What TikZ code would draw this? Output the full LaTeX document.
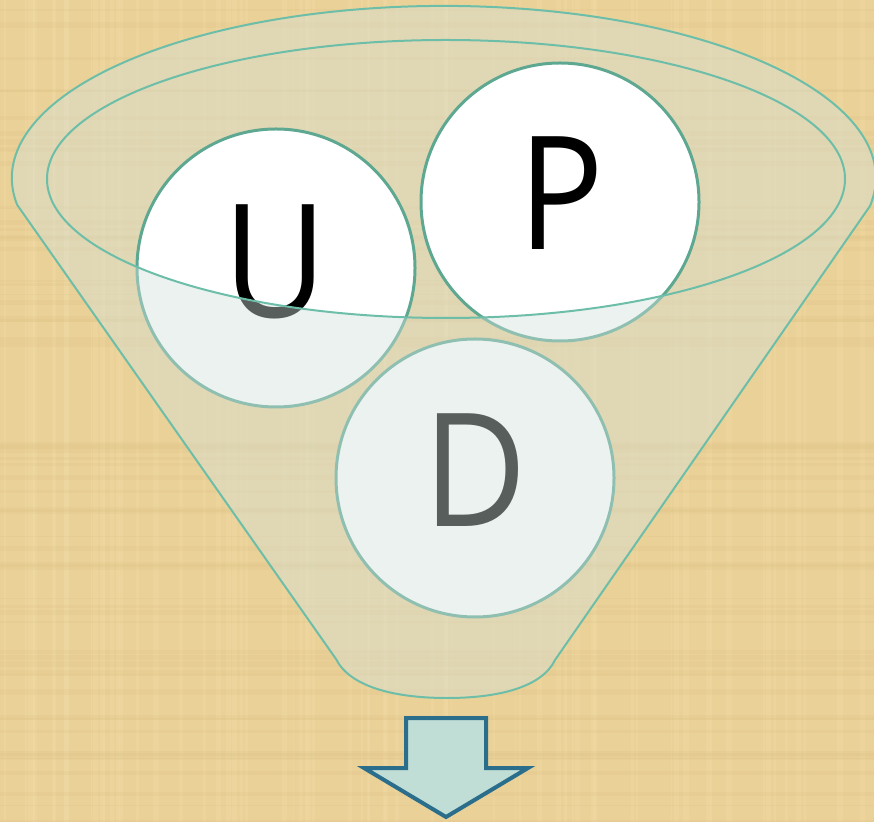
\documentclass[tikz,border=0pt]{standalone}
\usepackage{fontspec}
\setmainfont{Open Sans}
\definecolor{papyrus}{RGB}{234,209,152}
\definecolor{papyrusLight}{RGB}{244,224,176}
\definecolor{papyrusDark}{RGB}{214,186,120}
\definecolor{veil}{RGB}{212,225,220}
\definecolor{rimline}{RGB}{108,190,168}
\definecolor{ballline}{RGB}{94,168,146}
\definecolor{arrowfill}{RGB}{192,221,214}
\definecolor{arrowline}{RGB}{42,110,140}
\newcommand{\narrowletter}[1]{\scalebox{0.9}[1]{#1}}
\tikzset{
  ball/.style={circle,draw=ballline,line width=3pt,fill=white,minimum size=278pt,inner sep=0pt},
  letter/.style={anchor=base,inner sep=0pt,font=\fontsize{158}{158}\selectfont,text=black},
  funnelfill/.style={fill=veil,fill opacity=0.42},
  funnelline/.style={draw=rimline,line width=2pt},
}
\begin{document}
\begin{tikzpicture}[x=1pt,y=1pt]
\useasboundingbox (0,0) rectangle (874,822);
% papyrus background
\fill[papyrus] (0,0) rectangle (874,822);
\pgfmathsetseed{7}
\foreach \i in {1,...,70}{
  \pgfmathsetmacro{\xx}{rnd*874}
  \pgfmathsetmacro{\ww}{1+rnd*5}
  \fill[papyrusLight,opacity=0.2] (\xx,0) rectangle ++(\ww,822);
}
\foreach \i in {1,...,60}{
  \pgfmathsetmacro{\yy}{rnd*822}
  \pgfmathsetmacro{\hh}{1+rnd*5}
  \fill[papyrusDark,opacity=0.14] (0,\yy) rectangle ++(874,\hh);
}
% inner opening fill (under the balls)
\fill[funnelfill] (446,643) ellipse [x radius=399, y radius=139];
% balls
\node[ball] (U) at (276,554) {};
\node[ball] (P) at (560,620) {};
\node[ball] (D) at (475,344) {};
\node[letter] (Ut) at (275,504) {\narrowletter{U}};
\node[letter] (Pt) at (561,572) {\narrowletter{P}};
\node[letter] (Dt) at (475,295) {\narrowletter{D}};
% funnel body in front of the balls (opening cut out)
\fill[funnelfill,even odd rule]
  (870,616) arc[start angle=-9.4,end angle=189,x radius=432,y radius=172]
  -- (336,163) .. controls (350,135) and (395,124) .. (447,124)
  .. controls (499,124) and (542,135) .. (555,162) -- cycle
  (446,643) ellipse [x radius=399, y radius=139];
% outlines
\draw[funnelline,line join=round]
  (870,616) arc[start angle=-9.4,end angle=189,x radius=432,y radius=172]
  -- (336,163) .. controls (350,135) and (395,124) .. (447,124)
  .. controls (499,124) and (542,135) .. (555,162) -- cycle;
\draw[funnelline] (446,643) ellipse [x radius=399, y radius=139];
% arrow
\coordinate (a1) at (406,104);
\coordinate (a2) at (486,104);
\coordinate (a3) at (486,54);
\coordinate (a4) at (528,54);
\coordinate (a5) at (446,5);
\coordinate (a6) at (364,54);
\coordinate (a7) at (406,54);
\draw[fill=arrowfill,draw=arrowline,line width=4pt,line join=miter]
  (a1) -- (a2) -- (a3) -- (a4) -- (a5) -- (a6) -- (a7) -- cycle;
\end{tikzpicture}
\end{document}
